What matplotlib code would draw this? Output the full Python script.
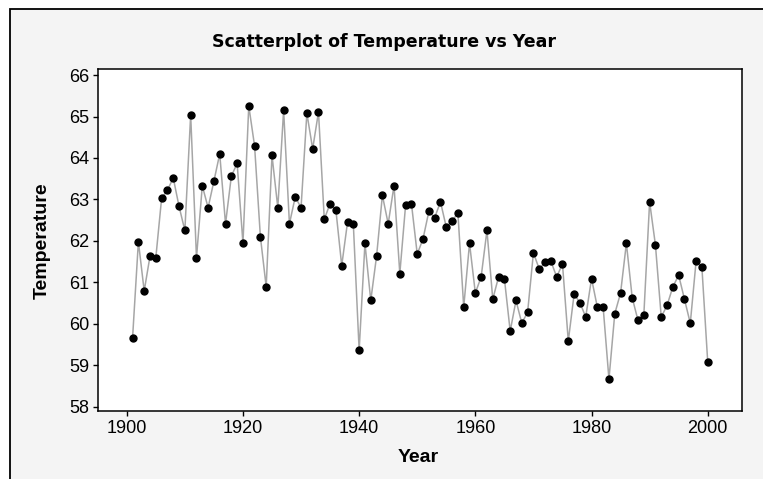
import matplotlib
matplotlib.use("Agg")
import matplotlib.pyplot as plt
from matplotlib.patches import Rectangle

years = list(range(1901, 2001))
temperature = [
    59.66, 61.98, 60.79, 61.63, 61.59, 63.03, 63.22, 63.52, 62.83, 62.25,
    65.04, 61.59, 63.33, 62.80, 63.44, 64.10, 62.41, 63.56, 63.87, 61.94,
    65.26, 64.29, 62.10, 60.89, 64.06, 62.80, 65.15, 62.41, 63.06, 62.80,
    65.08, 64.22, 65.11, 62.52, 62.90, 62.74, 61.40, 62.45, 62.40, 59.36,
    61.94, 60.56, 61.63, 63.10, 62.41, 63.33, 61.21, 62.87, 62.90, 61.68,
    62.05, 62.71, 62.56, 62.94, 62.33, 62.48, 62.67, 60.40, 61.94, 60.74,
    61.13, 62.25, 60.59, 61.13, 61.09, 59.82, 60.56, 60.01, 60.28, 61.71,
    61.32, 61.48, 61.51, 61.13, 61.44, 59.58, 60.71, 60.51, 60.16, 61.09,
    60.40, 60.40, 58.66, 60.24, 60.74, 61.94, 60.63, 60.08, 60.20, 62.94,
    61.90, 60.16, 60.44, 60.89, 61.17, 60.59, 60.01, 61.51, 61.36, 59.08,
]
x_ticks = [1900, 1920, 1940, 1960, 1980, 2000]
y_ticks = [58, 59, 60, 61, 62, 63, 64, 65, 66]

W, H = 763, 479
fig = plt.figure(figsize=(W / 100, H / 100), dpi=100)
fig.patch.set_facecolor("white")

# outer frame with light grey fill
frame = Rectangle((9.5 / W, -0.05), 1.2, 1 + 0.05 - 8.5 / H, transform=fig.transFigure,
                  facecolor="#f4f4f4", edgecolor="black", linewidth=1.3, zorder=-10)
fig.patches.append(frame)

ax = fig.add_axes([98.3 / W, 1 - 410.7 / H, (741.7 - 98.3) / W, (410.7 - 69.3) / H])
ax.set_zorder(1)
ax.set_facecolor("white")
ax.plot(years, temperature, color="#a6a6a6", linewidth=1.1, zorder=2)
ax.plot(years, temperature, linestyle="none", marker="o", markersize=5.0,
        markerfacecolor="black", markeredgecolor="black", zorder=3)

ax.set_xlim(1895.1, 2005.85)
ax.set_ylim(57.90, 66.14)
ax.set_xticks(x_ticks)
ax.set_yticks(y_ticks)
ax.tick_params(direction="out", length=3.6, width=1, colors="black",
               labelsize=13)
ax.tick_params(axis="y", pad=3)
ax.tick_params(axis="x", pad=3)
for lab in ax.get_xticklabels() + ax.get_yticklabels():
    lab.set_family("Liberation Sans")
for sp in ax.spines.values():
    sp.set_linewidth(1.1)
    sp.set_color("black")

fig.text(418 / W, 1 - 457 / H, "Year", ha="center", va="center",
         family="Liberation Sans", fontweight="bold", fontsize=14, zorder=5)
fig.text(42 / W, 1 - 241 / H, "Temperature", ha="center", va="center", rotation=90,
         family="Liberation Sans", fontweight="bold", fontsize=14, zorder=5)
fig.text(383.5 / W, 1 - 42 / H, "Scatterplot of Temperature vs Year", ha="center", va="center",
         family="DejaVu Sans", fontweight="bold", fontsize=12.5, zorder=5)

fig.savefig("out.png", dpi=100)
